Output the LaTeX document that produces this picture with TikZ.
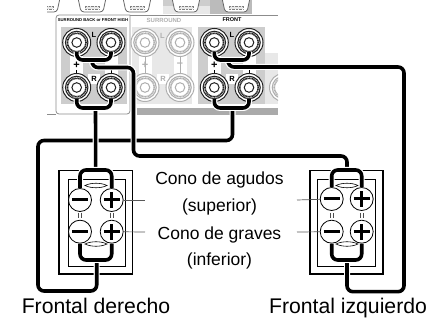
\documentclass[tikz,border=0pt]{standalone}
\usepackage{fontspec}
\setmainfont{Liberation Sans}
\usetikzlibrary{positioning, calc}
\definecolor{panel}{RGB}{205,205,205}
\definecolor{panelclaro}{RGB}{232,232,232}
\definecolor{banda}{RGB}{170,170,170}
\definecolor{borne}{RGB}{35,35,35}
\definecolor{bornegris}{RGB}{175,175,175}
\tikzset{
  post/.style={circle, draw=#1, fill=white, line width=1pt, minimum size=28pt, inner sep=0pt,
    path picture={
      \draw[#1, line width=1.1pt] (path picture bounding box.center) circle (11.2pt);
      \draw[#1, line width=1.6pt, dash pattern=on 1pt off .5pt] (path picture bounding box.center) circle (9.3pt);
      \draw[#1, line width=1pt] (path picture bounding box.center) circle (4.8pt);
    }},
  wire/.style={line width=3.6pt, black, rounded corners=6pt, preaction={draw=white, line width=6pt}},
  cone/.style={circle, draw=black, fill=white, line width=.8pt, minimum size=23pt, inner sep=0pt},
  coneminus/.style={cone, path picture={
      \draw[black, line width=3pt] ([xshift=-8pt]path picture bounding box.center) -- ([xshift=8pt]path picture bounding box.center);}},
  coneplus/.style={cone, path picture={
      \draw[black, line width=3pt] ([xshift=-8pt]path picture bounding box.center) -- ([xshift=8pt]path picture bounding box.center);
      \draw[black, line width=3pt] ([yshift=-8pt]path picture bounding box.center) -- ([yshift=8pt]path picture bounding box.center);}},
  leader/.style={black!65, line width=.7pt},
  caption/.style={font=\fontsize{17.5}{20}\selectfont, inner sep=0pt, anchor=base},
  speakername/.style={font=\fontsize{21.2}{24}\selectfont, inner sep=0pt, anchor=base},
  panellabel/.style={font=\fontsize{4.2}{6}\selectfont\bfseries, inner sep=0pt},
  postlabel/.style={font=\fontsize{7.5}{8}\selectfont\bfseries, inner sep=0pt}
}

\begin{document}
\begin{tikzpicture}[x=1pt, y=-1pt]
  \useasboundingbox (0,0) rectangle (440,320);

  % Mandos superiores
  \begin{scope}
    \clip (47,0) rectangle (278,20);
    \fill[panelclaro] (163,6) rectangle (210,14);
    \fill[panel] (163,0) rectangle (210,6);
    \fill[banda!80] (210,0) rectangle (252,14);
    \foreach \x in {32,78,123,172,222} {
      \draw[black!60, fill=white, line width=.8pt, rounded corners=3pt] (\x,-2) -- (\x+3,12) -- (\x+25,12) -- (\x+28,-2);
      \draw[black!50, fill=panelclaro, densely dotted] (\x+7,6) rectangle (\x+21,9);
    }
  \end{scope}

  % Panel de bornes
  \fill[panelclaro] (132,27) rectangle (192,104);
  \fill[panel] (61,27) rectangle (127,104);
  \fill[panel] (198,27) rectangle (265,104);
  \fill[panelclaro] (265,53) rectangle (278,104);
  \fill[banda] (137,108) rectangle (278,115);
  \foreach \x in {70,105,139,174,208,243} {
    \fill[white] (\x,53) rectangle (\x+13,76);
  }
  \fill[white] (88,74) rectangle (100,84);
  \fill[white] (157,74) rectangle (169,84);
  \fill[white] (226,74) rectangle (238,84);
  \draw[black!45, line width=.8pt] (130,15) -- (278,15);
  \draw[black!45, line width=.8pt, rounded corners=3pt] (130,15) -- (56,15) -- (56,114) -- (130,114) -- (130,15);
  \draw[black!45, line width=.8pt] (47,114) -- (56,114);

  \node[panellabel] (sbback) at (93,20) {SURROUND BACK or FRONT HIGH};
  \node[panellabel, bornegris, font=\fontsize{6}{7}\selectfont\bfseries] (surround) at (164,20) {SURROUND};
  \node[panellabel, font=\fontsize{5.5}{7}\selectfont\bfseries] (front) at (232,20) {FRONT};
  \node[postlabel] (sbL) at (94,35) {L};
  \node[postlabel] (sbR) at (94,79) {R};
  \node[postlabel, bornegris] (suL) at (162.5,36) {L};
  \node[postlabel, bornegris] (suR) at (163,79) {R};
  \node[postlabel] (frL) at (232,35) {L};
  \node[postlabel] (frR) at (232,79) {R};
  \node[postlabel, font=\fontsize{11}{11}\selectfont\bfseries] (sbplus) at (76.7,65) {+};
  \node[postlabel, font=\fontsize{11}{11}\selectfont\bfseries, bornegris] (suplus) at (145,65) {+};
  \node[postlabel, font=\fontsize{11}{11}\selectfont\bfseries, bornegris] (suminus) at (180,65) {--};
  \node[postlabel, font=\fontsize{11}{11}\selectfont\bfseries] (frplus) at (214.3,65) {+};
  \draw[black, line width=.6pt] (76.7,70) -- (76.7,74);
  \draw[black, line width=.6pt] (111,70) -- (111,74);
  \draw[black, line width=.6pt] (214.3,70) -- (214.3,74);
  \draw[black, line width=.6pt] (249,70) -- (249,74);
  \draw[bornegris, line width=.6pt] (145,56) -- (145,74);
  \draw[bornegris, line width=.6pt] (180,56) -- (180,74);

  % Bornes
  \foreach \name/\x/\y in {sbLL/76.7/42.5, sbLR/111/42.5, sbRL/76.7/87.5, sbRR/111/87.5,
                           frLL/214.3/42.5, frLR/249/42.5, frRL/214.3/87.5, frRR/249/87.5} {
    \node[post=borne] (\name) at (\x,\y) {};
  }
  \foreach \name/\x/\y in {suLL/145/42.5, suLR/180/42.5, suRL/145/87.5, suRR/180/87.5} {
    \node[post=bornegris] (\name) at (\x,\y) {};
  }
  \begin{scope}
    \clip (265,60) rectangle (278,115);
    \node[post=bornegris] (nextR) at (283.5,87.5) {};
  \end{scope}

  % Cajas de los altavoces
  \foreach \xa/\xb/\xc/\xd in {59/68/125/132.7, 310/317.7/375.7/383} {
    \draw[black, line width=1.1pt] (\xa,170.7) rectangle (\xd,274);
    \draw[black, line width=.7pt] (\xb,179) rectangle (\xc,266);
  }
  \foreach \x in {96,347} {
    \draw[black, line width=.6pt] (\x-11,185.5) .. controls (\x-5,182.5) and (\x+5,182.5) .. (\x+11,185.5)
       .. controls (\x+5,188.5) and (\x-5,188.5) .. cycle;
    \draw[black, line width=.6pt] (\x-11,244) .. controls (\x-5,241) and (\x+5,241) .. (\x+11,244)
       .. controls (\x+5,247) and (\x-5,247) .. cycle;
  }
  \foreach \x in {80,111.7,331.7,361.7} {
    \draw[black!70, line width=.6pt] (\x-1.3,213) -- (\x-1.3,218);
    \draw[black!70, line width=.6pt] (\x+1.3,213) -- (\x+1.3,218);
  }

  \coordinate (lTop) at (95.7,170);
  \coordinate (lBottom) at (96.7,260);
  \coordinate (rTop) at (347,170);
  \coordinate (rBottom) at (347,260);
  \coordinate (sbLjoin) at (92,60);
  \coordinate (sbRjoin) at (95.5,108);
  \coordinate (frLjoin) at (228,60);
  \coordinate (frRjoin) at (232.5,108);

  % Conos
  \node[coneminus] (lTweetM) at (80,200) {};
  \node[coneplus] (lTweetP) at (111.7,200) {};
  \node[coneminus] (lWooferM) at (80,231.7) {};
  \node[coneplus] (lWooferP) at (111.7,231.7) {};
  \node[coneminus] (rTweetM) at (331.7,199) {};
  \node[coneplus] (rTweetP) at (361.7,199) {};
  \node[coneminus] (rWooferM) at (331.7,231.7) {};
  \node[coneplus] (rWooferP) at (361.7,231.7) {};

  % Cables
  \draw[wire] (frRjoin) -- (232.5,140.5) -- (38,140.5) -- (38,291) -- (96.7,291) -- (lBottom);
  \draw[wire] (sbLjoin) -- (92,67.5) -- (133.5,67.5) -- (133.5,156) -- (347,156) -- (rTop);
  \draw[wire] (frLjoin) -- (228,67) -- (404,67) -- (404,291.7) -- (347,291.7) -- (rBottom);
  \draw[wire] (sbRjoin) -- (lTop);
  \draw[wire] ([yshift=5pt]sbLL.south) |- (sbLjoin) -| ([yshift=5pt]sbLR.south);
  \draw[wire] ([yshift=3pt]sbRL.south) |- (sbRjoin) -| ([yshift=3pt]sbRR.south);
  \draw[wire] ([yshift=5pt]frLL.south) |- (frLjoin) -| ([yshift=5pt]frLR.south);
  \draw[wire] ([yshift=3pt]frRL.south) |- (frRjoin) -| ([yshift=3pt]frRR.south);
  \draw[wire] (lTweetM.north) |- (lTop) -| (lTweetP.north);
  \draw[wire] (lWooferM.south) |- (lBottom) -| (lWooferP.south);
  \draw[wire] (rTweetM.north) |- (rTop) -| (rTweetP.north);
  \draw[wire] (rWooferM.south) |- (rBottom) -| (rWooferP.south);

  % Textos
  \node[caption] (agudos) at (219.5,185) {Cono de agudos};
  \node[caption] (superior) at (219.5,212) {(superior)};
  \node[caption] (graves) at (219.5,239.5) {Cono de graves};
  \node[caption] (inferior) at (219.5,266) {(inferior)};
  \node[speakername] (derecho) at (96,314) {Frontal derecho};
  \node[speakername] (izquierdo) at (348,314) {Frontal izquierdo};

  \coordinate (lTweetEnd) at (145,200);
  \coordinate (lWooferEnd) at (145,232);
  \coordinate (rTweetEnd) at (297,200);
  \coordinate (rWooferEnd) at (297,232);
  \draw[leader] (lTweetP) -- (lTweetEnd);
  \draw[leader] (lWooferP) -- (lWooferEnd);
  \draw[leader] (rTweetM) -- (rTweetEnd);
  \draw[leader] (rWooferM) -- (rWooferEnd);
\end{tikzpicture}
\end{document}
